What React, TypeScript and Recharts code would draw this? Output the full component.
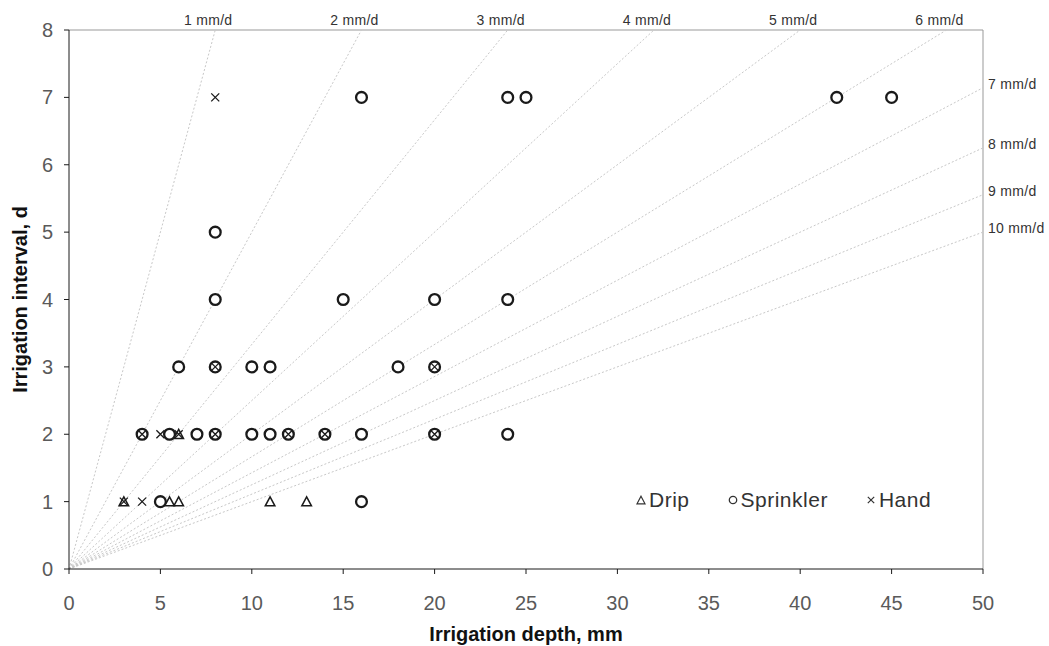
import React from "react";
import {
  ScatterChart,
  Scatter,
  XAxis,
  YAxis,
  ReferenceLine,
  Legend,
  Label,
} from "recharts";

// irrigation depth (mm) / interval (d) per system
const drip = [
  { depth: 3, interval: 1 },
  { depth: 5.5, interval: 1 },
  { depth: 6, interval: 1 },
  { depth: 11, interval: 1 },
  { depth: 13, interval: 1 },
  { depth: 6, interval: 2 },
];

const sprinkler = [
  { depth: 5, interval: 1 },
  { depth: 16, interval: 1 },
  { depth: 4, interval: 2 },
  { depth: 5.5, interval: 2 },
  { depth: 7, interval: 2 },
  { depth: 8, interval: 2 },
  { depth: 10, interval: 2 },
  { depth: 11, interval: 2 },
  { depth: 12, interval: 2 },
  { depth: 14, interval: 2 },
  { depth: 16, interval: 2 },
  { depth: 20, interval: 2 },
  { depth: 24, interval: 2 },
  { depth: 6, interval: 3 },
  { depth: 8, interval: 3 },
  { depth: 10, interval: 3 },
  { depth: 11, interval: 3 },
  { depth: 18, interval: 3 },
  { depth: 20, interval: 3 },
  { depth: 8, interval: 4 },
  { depth: 15, interval: 4 },
  { depth: 20, interval: 4 },
  { depth: 24, interval: 4 },
  { depth: 8, interval: 5 },
  { depth: 16, interval: 7 },
  { depth: 24, interval: 7 },
  { depth: 25, interval: 7 },
  { depth: 42, interval: 7 },
  { depth: 45, interval: 7 },
];

const hand = [
  { depth: 3, interval: 1 },
  { depth: 4, interval: 1 },
  { depth: 4, interval: 2 },
  { depth: 5, interval: 2 },
  { depth: 6, interval: 2 },
  { depth: 8, interval: 2 },
  { depth: 12, interval: 2 },
  { depth: 14, interval: 2 },
  { depth: 20, interval: 2 },
  { depth: 8, interval: 3 },
  { depth: 20, interval: 3 },
  { depth: 8, interval: 7 },
];

// daily application rates, mm/d
const rates = [1, 2, 3, 4, 5, 6, 7, 8, 9, 10];

const xTicks = [0, 5, 10, 15, 20, 25, 30, 35, 40, 45, 50];
const yTicks = [0, 1, 2, 3, 4, 5, 6, 7, 8];

const X_MAX = 50;
const Y_MAX = 8;

// where each rate line leaves the plot box
const rateEnds = rates.map((r) => {
  const depth = Math.min(r * Y_MAX, X_MAX);
  return { rate: r, depth, interval: depth / r, top: r * Y_MAX <= X_MAX };
});

const FONT = "'Liberation Sans', Arial, sans-serif";
const INK = "#1a1a1a";

const CircleMark = (p: any) => (
  <circle cx={p.cx} cy={p.cy} r={5.4} fill="#fff" stroke={INK} strokeWidth={2.3} />
);

const TriangleMark = (p: any) => {
  const { cx, cy } = p;
  return (
    <path
      d={`M${cx},${cy - 4.8} L${cx + 4.8},${cy + 4.2} L${cx - 4.8},${cy + 4.2} Z`}
      fill="#fff"
      stroke={INK}
      strokeWidth={1.5}
    />
  );
};

const CrossMark = (p: any) => {
  const { cx, cy } = p;
  const s = 4;
  return (
    <path
      d={`M${cx - s},${cy - s} L${cx + s},${cy + s} M${cx - s},${cy + s} L${cx + s},${cy - s}`}
      stroke={INK}
      strokeWidth={1.3}
      fill="none"
    />
  );
};

const RateLabel = (p: any) => {
  const { cx, cy, payload } = p;
  const text = `${payload.rate} mm/d`;
  const common = {
    dominantBaseline: "central" as const,
    fontFamily: FONT,
    fontSize: 14,
    fill: "#333",
    letterSpacing: 0.3,
  };
  if (payload.top) {
    return (
      <text x={cx - 7} y={cy - 10} textAnchor="middle" {...common}>
        {text}
      </text>
    );
  }
  return (
    <text x={cx + 5} y={cy - 4} textAnchor="start" {...common}>
      {text}
    </text>
  );
};

const legendItems = [
  { name: "Drip", icon: "tri" },
  { name: "Sprinkler", icon: "circle" },
  { name: "Hand", icon: "cross" },
];

const LegendIcon = ({ kind }: { kind: string }) => (
  <svg width={10} height={10} viewBox="0 0 10 10" style={{ marginRight: 3 }}>
    {kind === "tri" && <path d="M5,1.2 L9,8.8 L1,8.8 Z" fill="none" stroke="#333" strokeWidth={1.2} />}
    {kind === "circle" && <circle cx={5} cy={5} r={3.7} fill="none" stroke="#333" strokeWidth={1.3} />}
    {kind === "cross" && <path d="M1.8,1.8 L8.2,8.2 M1.8,8.2 L8.2,1.8" stroke="#333" strokeWidth={1.2} />}
  </svg>
);

const LegendContent = () => (
  <div style={{ display: "flex", alignItems: "center", fontFamily: FONT, fontSize: 21, color: "#333", letterSpacing: 0.5 }}>
    {legendItems.map((it, i) => (
      <div key={it.name} style={{ display: "flex", alignItems: "center", marginLeft: i === 0 ? 0 : 38 }}>
        <LegendIcon kind={it.icon} />
        <span>{it.name}</span>
      </div>
    ))}
  </div>
);

const YTitle = (props: any) => {
  const vb = props.viewBox;
  const x = vb.x + 20;
  const y = vb.y + vb.height / 2;
  return (
    <text x={x} y={y} transform={`rotate(-90, ${x}, ${y})`} textAnchor="middle"
      dominantBaseline="central" fontFamily={FONT} fontWeight="bold" fontSize={20} fill="#111">
      Irrigation interval, d
    </text>
  );
};

export default function App() {
  const tickStyle = { fontFamily: FONT, fontSize: 20, fill: "#5a5a5a" };
  return (
    // pinned to the window corner so the body margin doesn't push it out
    <div style={{ position: "fixed", left: 0, top: 0, width: 1049, height: 646, overflow: "hidden", background: "#fff" }}>
      <ScatterChart width={1049} height={646} margin={{ top: 30, right: 66, bottom: 0, left: 0 }}>
        <XAxis
          type="number"
          dataKey="depth"
          domain={[0, X_MAX]}
          ticks={xTicks}
          allowDecimals
          height={77}
          tickSize={5}
          tickMargin={22}
          axisLine={{ stroke: INK }}
          tickLine={{ stroke: INK }}
          tick={tickStyle}
        >
          <Label value="Irrigation depth, mm" position="insideBottom" offset={5}
            style={{ fontFamily: FONT, fontWeight: "bold", fontSize: 20, fill: "#111" }} />
        </XAxis>
        <YAxis
          type="number"
          dataKey="interval"
          domain={[0, Y_MAX]}
          ticks={yTicks}
          width={69}
          tickSize={5}
          tickMargin={11}
          axisLine={{ stroke: INK }}
          tickLine={{ stroke: INK }}
          tick={tickStyle}
        >
          <Label content={YTitle} />
        </YAxis>

        <ReferenceLine y={Y_MAX} stroke="#999" strokeWidth={1} ifOverflow="visible" />
        <ReferenceLine x={X_MAX} stroke="#999" strokeWidth={1} ifOverflow="visible" />
        {rateEnds.map((e) => (
          <ReferenceLine
            key={e.rate}
            segment={[{ x: 0, y: 0 }, { x: e.depth, y: e.interval }]}
            stroke="#c8c8c8"
            strokeDasharray="2 2"
            strokeWidth={1}
            ifOverflow="visible"
          />
        ))}

        <Legend
          layout="horizontal"
          verticalAlign="middle"
          align="center"
          content={LegendContent}
          wrapperStyle={{ top: 488, left: 636, width: "auto" }}
        />

        <Scatter name="rates" data={rateEnds} shape={RateLabel} isAnimationActive={false} legendType="none" />
        <Scatter name="Sprinkler" data={sprinkler} shape={CircleMark} isAnimationActive={false} />
        <Scatter name="Drip" data={drip} shape={TriangleMark} isAnimationActive={false} />
        <Scatter name="Hand" data={hand} shape={CrossMark} isAnimationActive={false} />
      </ScatterChart>
    </div>
  );
}
